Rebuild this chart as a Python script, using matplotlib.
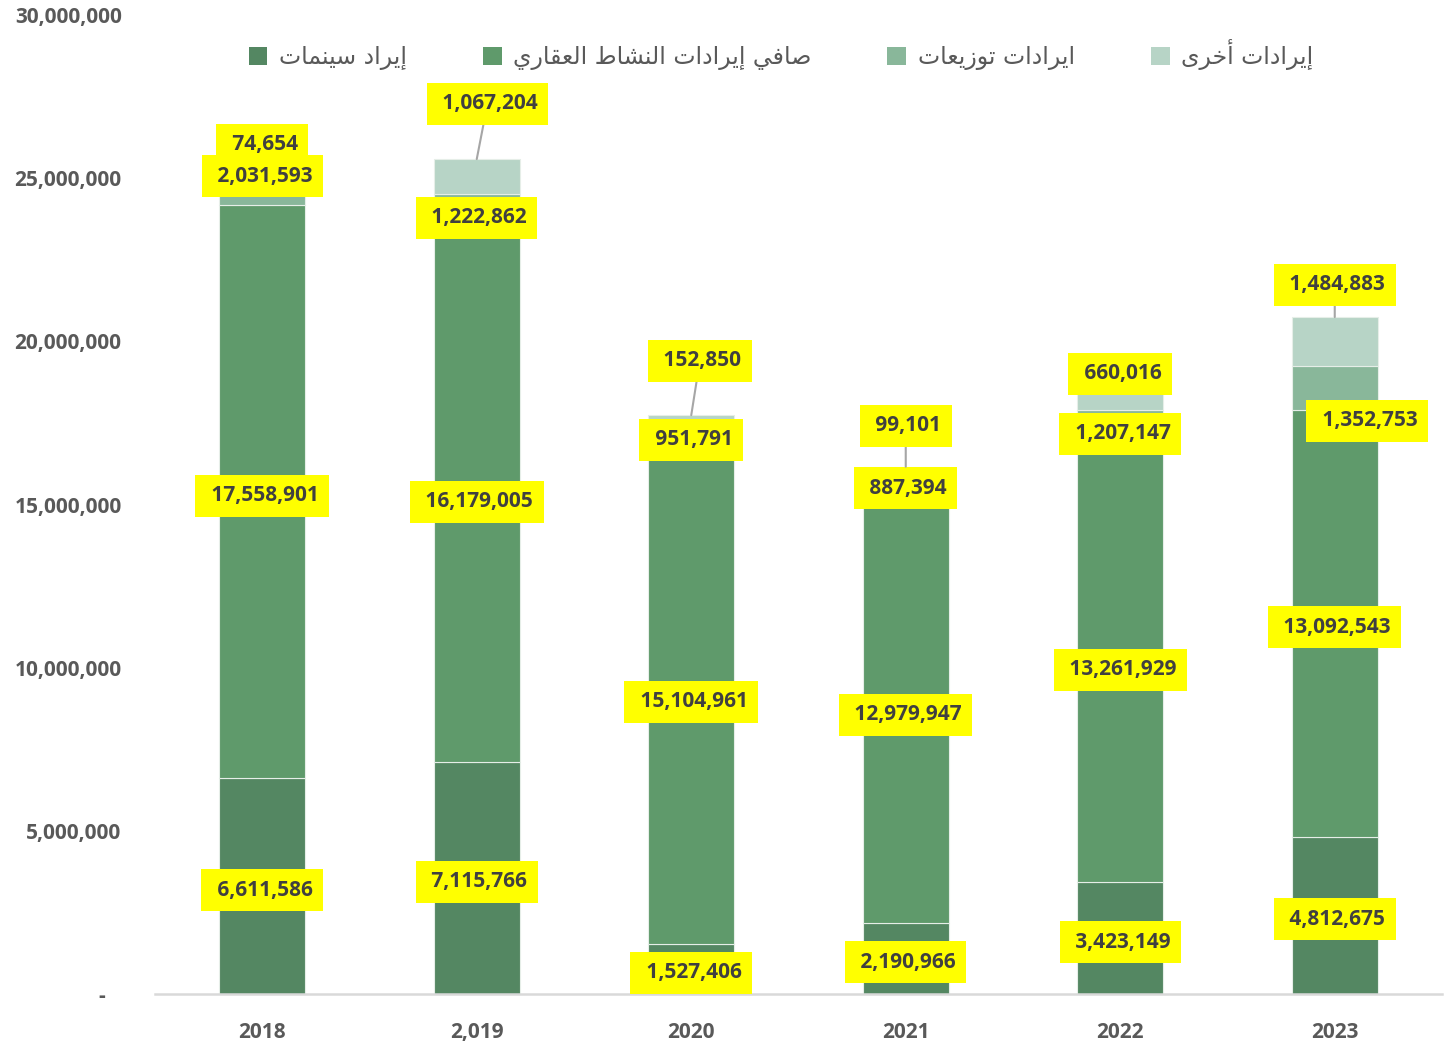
import matplotlib
matplotlib.use('Agg')
import matplotlib.pyplot as plt
import matplotlib.ticker as mtick
from matplotlib.patches import Patch
import numpy as np

# Data
years = ['2018', '2,019', '2020', '2021', '2022', '2023']
cinema = [6611586, 7115766, 1527406, 2190966, 3423149, 4812675]
real_estate = [17558901, 16179005, 15104961, 12979947, 13261929, 13092543]
dividends = [2031593, 1222862, 951791, 887394, 1207147, 1352753]
other = [74654, 1067204, 152850, 99101, 660016, 1484883]

series_names = ['إيراد سينمات', 'صافي إيرادات النشاط العقاري', 'ايرادات توزيعات', 'إيرادات أخرى']
colors = ['#548762', '#5f9a6b', '#89b79a', '#b7d4c6']

# label placement for the "other" series (data units) and leader line flags
other_label_y = [26.14e6, 27.40e6, 19.52e6, 17.53e6, 19.12e6, 21.85e6]
other_label_dx = [0.0, 0.05, 0.04, 0.0, 0.0, 0.0]
other_leader = [False, True, True, True, False, True]

# Arabic presentation forms: base code point and number of forms (4 = dual joining)
AR_FORMS = {
    'ا': (0xFE8D, 2), 'أ': (0xFE83, 2), 'إ': (0xFE87, 2),
    'ت': (0xFE95, 4), 'خ': (0xFEA5, 4), 'د': (0xFEA9, 2), 'ر': (0xFEAD, 2),
    'ز': (0xFEAF, 2), 'س': (0xFEB1, 4), 'ش': (0xFEB5, 4), 'ص': (0xFEB9, 4),
    'ط': (0xFEC1, 4), 'ع': (0xFEC9, 4), 'ف': (0xFED1, 4), 'ق': (0xFED5, 4),
    'ل': (0xFEDD, 4), 'م': (0xFEE1, 4), 'ن': (0xFEE5, 4), 'و': (0xFEED, 2),
    'ى': (0xFEEF, 2), 'ي': (0xFEF1, 4),
}


def shape_ar(s):
    """Minimal Arabic shaping + reversal since matplotlib has no bidi support."""
    out = []
    for i, ch in enumerate(s):
        if ch not in AR_FORMS:
            out.append(ch)
            continue
        base, n = AR_FORMS[ch]
        prev = s[i - 1] if i > 0 else ''
        nxt = s[i + 1] if i + 1 < len(s) else ''
        join_prev = prev in AR_FORMS and AR_FORMS[prev][1] == 4
        join_next = n == 4 and nxt in AR_FORMS
        if join_prev and join_next:
            form = 3
        elif join_prev:
            form = 1
        elif join_next:
            form = 2
        else:
            form = 0
        out.append(chr(base + form))
    return ''.join(reversed(out))


NUM_FONT = ['Open Sans', 'DejaVu Sans']
LABEL_COLOR = '#404040'
TICK_COLOR = '#595959'
DY = -0.12e6  # small downward nudge so digits sit centred in their boxes

fig = plt.figure(figsize=(14.5, 10.44), dpi=100)
ax = fig.add_axes([155 / 1450, 50 / 1044, 1287 / 1450, 979 / 1044])

x = np.arange(len(years))
width = 0.4
stack = [cinema, real_estate, dividends, other]
bottom = np.zeros(len(years))
bottoms = []
for vals, col in zip(stack, colors):
    vals = np.array(vals, dtype=float)
    ax.bar(x, vals, width, bottom=bottom, color=col, edgecolor='#e6eee8', linewidth=0.8, zorder=2)
    bottoms.append(bottom.copy())
    bottom = bottom + vals
tops = bottom

box = dict(boxstyle='square,pad=0.5', facecolor='#ffff00', edgecolor='none')
label_kw = dict(ha='center', va='center', fontsize=15, fontweight='bold',
                color=LABEL_COLOR, family=NUM_FONT, bbox=box, zorder=5)

# centered labels for the first three series
for s, vals in enumerate(stack[:3]):
    for i, v in enumerate(vals):
        cx, cy = x[i], bottoms[s][i] + v / 2 + DY
        if s == 2 and i == 5:
            cx, cy = x[i] + 0.15, cy - 0.9e6
        ax.text(cx, cy, f' {v:,}', **label_kw)

# "other" labels above the bars, some with leader lines
for i, v in enumerate(other):
    lx, ly = x[i] + other_label_dx[i], other_label_y[i] + DY
    if other_leader[i]:
        ax.annotate(f' {v:,}', xy=(x[i], tops[i]), xytext=(lx, ly),
                    arrowprops=dict(arrowstyle='-', color='#a6a6a6', lw=1.5,
                                    shrinkA=0, shrinkB=0),
                    **label_kw)
    else:
        ax.text(lx, ly, f' {v:,}', **label_kw)

ax.set_xlim(-0.5, 5.5)
ax.set_ylim(0, 30e6)
ax.set_yticks(np.arange(0, 30e6 + 1, 5e6))
ax.yaxis.set_major_formatter(mtick.FuncFormatter(lambda v, _: f'{v:,.0f}' if v else '-   '))
ax.set_xticks(x)
ax.set_xticklabels(years)

for side in ['left', 'right', 'top']:
    ax.spines[side].set_visible(False)
ax.spines['bottom'].set_color('#d9d9d9')
ax.spines['bottom'].set_linewidth(1.8)
ax.tick_params(axis='both', length=0, labelsize=15, labelcolor=TICK_COLOR)
ax.tick_params(axis='y', pad=24)
ax.tick_params(axis='x', pad=20)
for lbl in ax.get_xticklabels() + ax.get_yticklabels():
    lbl.set_fontweight('bold')
    lbl.set_family(NUM_FONT)

handles = [Patch(facecolor=c, edgecolor='none') for c in colors]
fig.legend(handles, [shape_ar(n) for n in series_names], loc='center',
           bbox_to_anchor=(781 / 1450, 1 - 55 / 1044), ncol=4, frameon=False,
           handlelength=0.8, handleheight=0.8, handletextpad=0.5, columnspacing=3.2,
           prop={'family': 'DejaVu Sans', 'size': 17}, labelcolor=TICK_COLOR)

fig.savefig('out.png', dpi=100)
